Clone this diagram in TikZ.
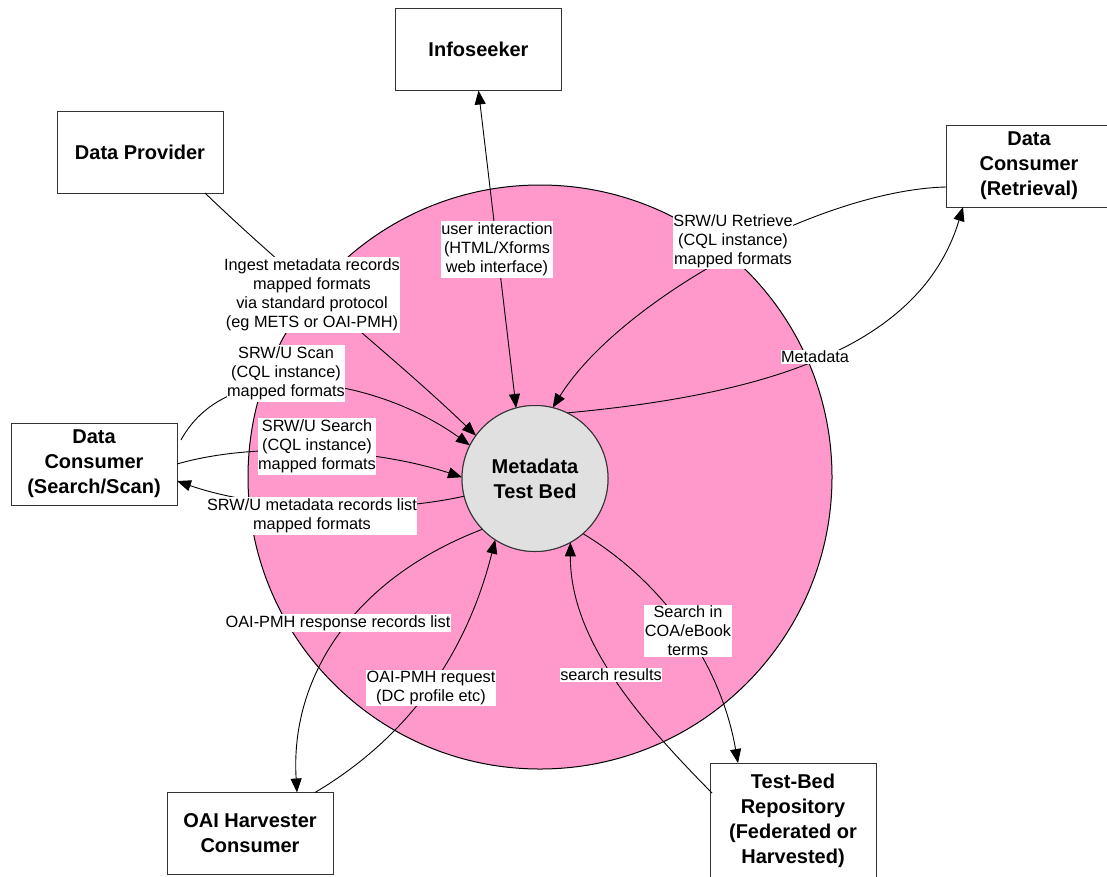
\documentclass[tikz,border=0pt]{standalone}
\usepackage{fontspec}
\setmainfont{Liberation Sans}
\usetikzlibrary{arrows.meta,calc}
\definecolor{discpink}{RGB}{255,153,204}
\definecolor{hubgrey}{RGB}{224,224,224}
\tikzset{
  actor/.style={draw=black!80, line width=1pt, fill=white, rectangle,
    minimum width=166pt, minimum height=82pt, inner sep=0pt, outer sep=0pt,
    align=center, font=\fontsize{20}{25}\selectfont\bfseries},
  hub/.style={draw=black!80, line width=1pt, fill=hubgrey, circle,
    minimum size=146pt, inner sep=0pt, outer sep=0pt, align=center,
    font=\fontsize{20}{25}\selectfont\bfseries},
  disc/.style={draw=black, line width=1pt, fill=discpink, circle,
    minimum size=584pt, inner sep=0pt, outer sep=0pt},
  conn/.style={draw=black, line width=0.9pt, -{Triangle[length=14pt,width=11pt]}},
  biconn/.style={conn, {Triangle[length=14pt,width=11pt]}-{Triangle[length=14pt,width=11pt]}},
  lbl/.style={fill=white, inner xsep=0.5pt, inner ysep=1.5pt, align=center,
    font=\fontsize{16.3}{19}\selectfont}
}
\begin{document}
\begin{tikzpicture}[x=1pt,y=-1pt]
\useasboundingbox (0,0) rectangle (1107,876);

% background service area
\node[disc] (area) at (540,477) {};

% actors around the test bed
\node[actor] (is)  at (478.5,49.5) {Infoseeker};
\node[actor] (dp)  at (140,152)    {Data Provider};
\node[actor] (rt)  at (1029,166)   {Data\\Consumer\\(Retrieval)};
\node[actor] (dcs) at (94,464)     {Data\\Consumer\\(Search/Scan)};
\node[actor] (oai) at (250,833.5)  {OAI Harvester\\Consumer};
\node[actor, minimum height=115pt] (tbr) at (793,820.5) {Test-Bed\\Repository\\(Federated or\\Harvested)};

% connector end points on the actor boxes
\coordinate (dp-out)   at ($(dp.south east)+(-18,0)$);
\coordinate (rt-in)    at ($(rt.south west)+(17,0)$);
\coordinate (rt-out)   at ($(rt.west)+(0,21)$);
\coordinate (dcs-scan) at ($(dcs.east)+(4,-24)$);
\coordinate (dcs-in)   at ($(dcs.east)+(0,17)$);
\coordinate (oai-in)   at ($(oai.north)+(47,0)$);
\coordinate (oai-out)  at ($(oai.north)+(65,0)$);
\coordinate (tbr-out)  at ($(tbr.north west)+(2,30)$);
\coordinate (tbr-in)   at ($(tbr.north west)+(28,0)$);

% the test bed hub
\node[hub] (tb) at (535,478.5) {Metadata\\Test Bed};

% connectors
\draw[conn] (dp-out) .. controls (290,275) and (400,362) .. (tb.144);
\draw[biconn] (is.south) -- (tb.105);
\draw[conn] (tb.64) .. controls (760,395) and (920,350) .. (rt-in);
\draw[conn] (rt-out) .. controls (820,190) and (620,300) .. (tb.76);
\draw[conn] (dcs-scan) .. controls (230,350) and (380,380) .. (tb.153);
\draw[conn] (dcs.east) .. controls (260,440) and (380,450) .. (tb.179);
\draw[conn] (tb.194) .. controls (380,515) and (260,510) .. (dcs-in);
\draw[conn] (tb.224) .. controls (350,580) and (290,680) .. (oai-in);
\draw[conn] (oai-out) .. controls (420,730) and (470,640) .. (tb.237);
\draw[conn] (tbr-out) .. controls (640,720) and (570,640) .. (tb.299);
\draw[conn] (tb.311) .. controls (660,580) and (720,660) .. (tbr-in);

% connector labels
\node[lbl] (l-ingest) at (312,295) {Ingest metadata records\\mapped formats\\via standard protocol\\(eg METS or OAI-PMH)};
\node[lbl] (l-user)   at (497,249.5) {user interaction\\(HTML/Xforms\\web interface)};
\node[lbl] (l-retr)   at (733,241) {SRW/U Retrieve\\(CQL instance)\\mapped formats};
\node[lbl] (l-meta)   at (815,357) {Metadata};
\node[lbl] (l-scan)   at (286,373.5) {SRW/U Scan\\(CQL instance)\\mapped formats};
\node[lbl] (l-search) at (317,446.5) {SRW/U Search\\(CQL instance)\\mapped formats};
\node[lbl] (l-list)   at (312,516) {SRW/U metadata records list\\mapped formats};
\node[lbl] (l-resp)   at (338,623) {OAI-PMH response records list};
\node[lbl] (l-req)    at (431,688) {OAI-PMH request\\(DC profile etc)};
\node[lbl] (l-sres)   at (611,675) {search results};
\node[lbl] (l-sin)    at (688,631) {Search in\\COA/eBook\\terms};

% keep the hub above the connector ends
\node[hub] at (tb) {Metadata\\Test Bed};
\end{tikzpicture}
\end{document}
